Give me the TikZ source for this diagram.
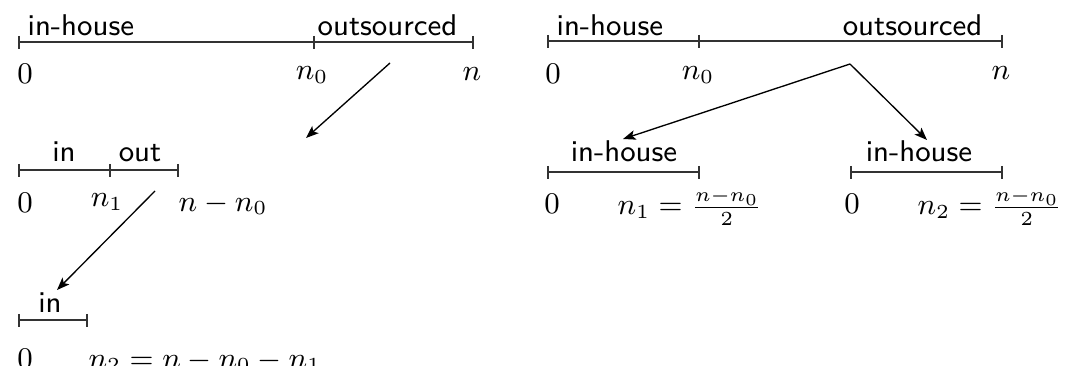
\documentclass[tikz,border=0pt]{standalone}
\usetikzlibrary{arrows.meta}
\begin{document}
\begin{tikzpicture}[x=0.3pt,y=-0.3pt,
  seg/.style={line width=0.4pt, draw=black!80},
  tickmark/.style={line width=0.4pt, draw=black!80},
  lab/.style={font=\sffamily\small, inner sep=0pt},
  num/.style={font=\small, inner sep=0pt},
  arr/.style={line width=0.4pt, -{Stealth[length=3.8pt,width=2.9pt,inset=0.9pt]}}]
\useasboundingbox (0,0) rectangle (1067,366);
% ---------- top-left ----------
\coordinate (a0) at (19,42);
\coordinate (a1) at (314,42);
\coordinate (a2) at (473,42);
\draw[seg] (a0) -- (a2);
\foreach \c in {a0,a1,a2} \draw[tickmark] (\c) +(0,-6) -- +(0,7);
\node[lab, anchor=base west] (ain) at (27,36) {in-house};
\node[lab, anchor=base west] (aout) at (317,36) {outsourced};
\node[num] (az) at (25,74) {$0$};
\node[num] (an0) at (312,75) {$n_0$};
\node[num] (an) at (472,74) {$n$};
% ---------- middle-left ----------
\coordinate (b0) at (19,170);
\coordinate (b1) at (110,170);
\coordinate (b2) at (178,170);
\draw[seg] (b0) -- (b2);
\foreach \c in {b0,b1,b2} \draw[tickmark] (\c) +(0,-6) -- +(0,7);
\node[lab, anchor=base] (bin) at (64,162) {in};
\node[lab, anchor=base] (bout) at (140,162) {out};
\node[num] (bz) at (25,203) {$0$};
\node[num] (bn1) at (107,202) {$n_1$};
\node[num, anchor=west] (bn) at (178,204) {$n-n_0$};
% ---------- bottom-left ----------
\coordinate (c0) at (19,320);
\coordinate (c1) at (87,320);
\draw[seg] (c0) -- (c1);
\foreach \c in {c0,c1} \draw[tickmark] (\c) +(0,-6) -- +(0,7);
\node[lab, anchor=base] (cin) at (50,313) {in};
\node[num] (cz) at (25,359) {$0$};
\node[num, anchor=west] (cn) at (88,361) {$n_2=n-n_0-n_1$};
% arrows left
\coordinate (s1) at (390,63);
\coordinate (e1) at (306,138);
\draw[arr] (s1) -- (e1);
\coordinate (s2) at (155,191);
\coordinate (e2) at (57,290);
\draw[arr] (s2) -- (e2);
% ---------- top-right ----------
\coordinate (d0) at (548,41);
\coordinate (d1) at (699,41);
\coordinate (d2) at (1002,41);
\draw[seg] (d0) -- (d2);
\foreach \c in {d0,d1,d2} \draw[tickmark] (\c) +(0,-6) -- +(0,7);
\node[lab, anchor=base west] (din) at (556,36) {in-house};
\node[lab, anchor=base east] (dout) at (983,36) {outsourced};
\node[num] (dz) at (553,74) {$0$};
\node[num] (dn0) at (698,75) {$n_0$};
\node[num] (dn) at (1001,73) {$n$};
% ---------- bottom-right, left ----------
\coordinate (e0) at (548,172);
\coordinate (e1r) at (699,172);
\draw[seg] (e0) -- (e1r);
\foreach \c in {e0,e1r} \draw[tickmark] (\c) +(0,-6) -- +(0,7);
\node[lab, anchor=base] (ein) at (624,162) {in-house};
\node[num] (ez) at (552,204) {$0$};
\node[num, anchor=east] (en) at (763,207) {$n_1=\frac{n-n_0}{2}$};
% ---------- bottom-right, right ----------
\coordinate (f0) at (851,172);
\coordinate (f1) at (1002,172);
\draw[seg] (f0) -- (f1);
\foreach \c in {f0,f1} \draw[tickmark] (\c) +(0,-6) -- +(0,7);
\node[lab, anchor=base] (fin) at (919,162) {in-house};
\node[num] (fz) at (852,204) {$0$};
\node[num, anchor=east] (fn) at (1063,207) {$n_2=\frac{n-n_0}{2}$};
% arrows right
\coordinate (apex) at (850,64);
\coordinate (tl) at (623,139);
\coordinate (tr) at (927,140);
\draw[arr] (apex) -- (tl);
\draw[arr] (apex) -- (tr);
\end{tikzpicture}
\end{document}
